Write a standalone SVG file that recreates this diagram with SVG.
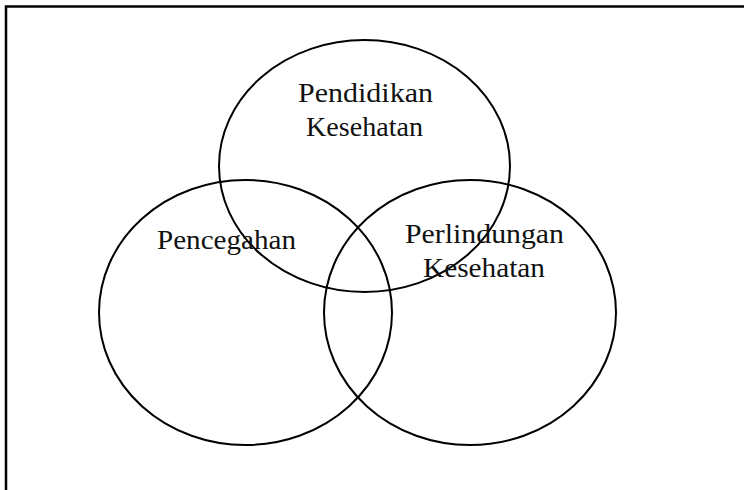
<svg xmlns="http://www.w3.org/2000/svg" width="744" height="490" viewBox="0 0 744 490">
<style>
.c{fill:none;stroke:#000;stroke-width:2}
.t{font-family:"Liberation Serif","Times New Roman",serif;font-size:27px;fill:#111}
</style>
<rect x="0" y="0" width="744" height="490" fill="#fff"/>
<path d="M6 492 V6.5 H746" fill="none" stroke="#000" stroke-width="2.5"/>
<g id="connectors"></g>
<g id="pendidikan">
<ellipse class="c" cx="364.5" cy="166" rx="145.5" ry="126"/>
<text class="t" x="298" y="102" textLength="135" lengthAdjust="spacingAndGlyphs">Pendidikan</text>
<text class="t" x="306" y="136" textLength="117" lengthAdjust="spacingAndGlyphs">Kesehatan</text>
</g>
<g id="pencegahan">
<ellipse class="c" cx="245.5" cy="312.5" rx="146.5" ry="132.5"/>
<text class="t" x="157" y="249" textLength="139" lengthAdjust="spacingAndGlyphs">Pencegahan</text>
</g>
<g id="perlindungan">
<ellipse class="c" cx="470" cy="312.5" rx="146" ry="132.5"/>
<text class="t" x="405" y="243" textLength="159" lengthAdjust="spacingAndGlyphs">Perlindungan</text>
<text class="t" x="423" y="277" textLength="122" lengthAdjust="spacingAndGlyphs">Kesehatan</text>
</g>
</svg>
